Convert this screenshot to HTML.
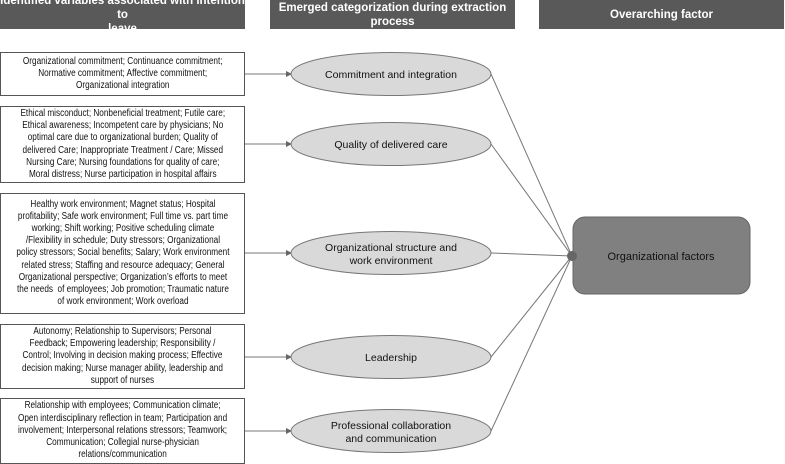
<!DOCTYPE html>
<html><head><meta charset="utf-8"><style>
body{margin:0;width:785px;height:464px;background:#fff;position:relative;overflow:hidden;font-family:"Liberation Sans",sans-serif}
.h{position:absolute;top:0;height:29px;background:#595959;color:#fff;font-weight:bold;font-size:11.5px;display:flex;align-items:center;justify-content:center;text-align:center;line-height:14px}
.b{position:absolute;left:0;width:243px;border:1px solid #555;background:#fff;display:flex;align-items:center;justify-content:center}
.t{font-size:10px;line-height:12.2px;text-align:center;white-space:nowrap;transform:scaleX(0.82);color:#111}
svg{position:absolute;left:0;top:0}
</style></head><body>
<div class="h" style="left:0;width:245px">Identified variables associated with intention to<br>leave</div>
<div class="h" style="left:270px;width:245px">Emerged categorization during extraction process</div>
<div class="h" style="left:539px;width:245px">Overarching factor</div>

<div class="b" style="top:52px;height:42px"><div class="t">Organizational commitment; Continuance commitment;<br>Normative commitment; Affective commitment;<br>Organizational integration</div></div>
<div class="b" style="top:106px;height:75px"><div class="t">Ethical misconduct; Nonbeneficial treatment; Futile care;<br>Ethical awareness; Incompetent care by physicians; No<br>optimal care due to organizational burden; Quality of<br>delivered Care; Inappropriate Treatment / Care; Missed<br>Nursing Care; Nursing foundations for quality of care;<br>Moral distress; Nurse participation in hospital affairs</div></div>
<div class="b" style="top:193px;height:119px"><div class="t">Healthy work environment; Magnet status; Hospital<br>profitability; Safe work environment; Full time vs. part time<br>working; Shift working; Positive scheduling climate<br>/Flexibility in schedule; Duty stressors; Organizational<br>policy stressors; Social benefits; Salary; Work environment<br>related stress; Staffing and resource adequacy; General<br>Organizational perspective; Organization’s efforts to meet<br>the needs&nbsp; of employees; Job promotion; Traumatic nature<br>of work environment; Work overload</div></div>
<div class="b" style="top:324px;height:63px"><div class="t">Autonomy; Relationship to Supervisors; Personal<br>Feedback; Empowering leadership; Responsibility /<br>Control; Involving in decision making process; Effective<br>decision making; Nurse manager ability, leadership and<br>support of nurses</div></div>
<div class="b" style="top:398px;height:64px"><div class="t">Relationship with employees; Communication climate;<br>Open interdisciplinary reflection in team; Participation and<br>involvement; Interpersonal relations stressors; Teamwork;<br>Communication; Collegial nurse-physician<br>relations/communication</div></div>

<svg width="785" height="464" font-family="Liberation Sans, sans-serif">
<g stroke="#777" stroke-width="1" fill="none">
<line x1="245" y1="74" x2="288" y2="74"/>
<line x1="245" y1="144" x2="288" y2="144"/>
<line x1="245" y1="253" x2="288" y2="253"/>
<line x1="245" y1="357" x2="288" y2="357"/>
<line x1="245" y1="431" x2="288" y2="431"/>
<line x1="491" y1="74" x2="572" y2="256"/>
<line x1="491" y1="144" x2="572" y2="256"/>
<line x1="491" y1="253" x2="572" y2="256"/>
<line x1="491" y1="357" x2="572" y2="256"/>
<line x1="491" y1="431" x2="572" y2="256"/>
</g>
<g fill="#666">
<polygon points="286,71 292,74 286,77"/>
<polygon points="286,141 292,144 286,147"/>
<polygon points="286,250 292,253 286,256"/>
<polygon points="286,354 292,357 286,360"/>
<polygon points="286,428 292,431 286,434"/>
</g>
<g fill="#d9d9d9" stroke="#777" stroke-width="1">
<ellipse cx="391" cy="74" rx="100" ry="21.5"/>
<ellipse cx="391" cy="144" rx="100" ry="21.5"/>
<ellipse cx="391" cy="253" rx="100" ry="21.5"/>
<ellipse cx="391" cy="357" rx="100" ry="21.5"/>
<ellipse cx="391" cy="431" rx="100" ry="21.5"/>
</g>
<g font-size="10.5" fill="#111" text-anchor="middle">
<text x="391" y="78">Commitment and integration</text>
<text x="391" y="148">Quality of delivered care</text>
<text x="391" y="251">Organizational structure and</text>
<text x="391" y="264">work environment</text>
<text x="391" y="361">Leadership</text>
<text x="391" y="429">Professional collaboration</text>
<text x="391" y="442">and communication</text>
</g>
<rect x="573" y="217" width="177" height="77" rx="12" fill="#808080" stroke="#666"/>
<circle cx="572" cy="256" r="5" fill="#666"/>
<text x="661" y="260" font-size="11" text-anchor="middle" fill="#111">Organizational factors</text>
</svg>
</body></html>
